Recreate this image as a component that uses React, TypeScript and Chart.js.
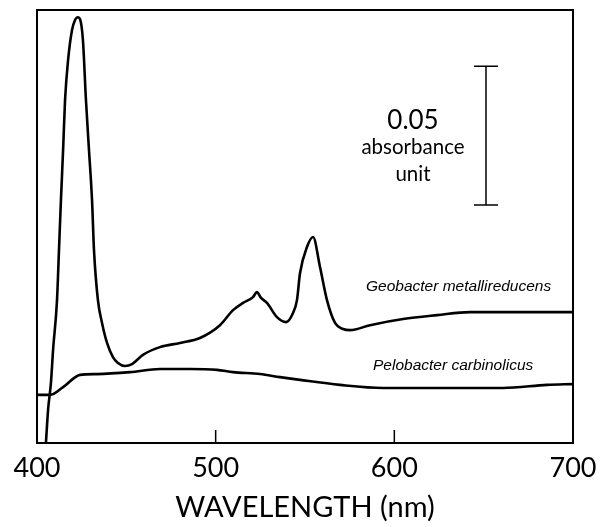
import React, { useEffect, useRef } from "react";
import { Chart, registerables } from "chart.js";

Chart.register(...registerables);

// Wavelength (nm) and absorbance values
const geoWavelength = [405.0, 406.2, 407.8, 409.0, 411.2, 412.3, 413.4, 414.6, 415.7, 417.4, 419.6, 421.3, 422.9, 424.1, 425.7, 427.4, 429.1, 430.8, 431.9, 434.1, 436.4, 439.2, 442.5, 445.3, 449.3, 453.2, 459.3, 468.8, 480.0, 491.2, 502.4, 509.7, 515.3, 520.9, 523.1, 525.4, 528.7, 534.3, 539.4, 543.3, 545.5, 547.2, 551.1, 554.5, 558.4, 562.3, 566.8, 571.3, 575.2, 586.4, 604.9, 623.9, 642.4, 660.8, 679.9, 700.0];
const geoAbsorbance = [0.0, 0.0119, 0.0216, 0.0335, 0.0514, 0.0694, 0.0874, 0.1054, 0.1234, 0.1378, 0.1486, 0.1522, 0.1532, 0.1525, 0.145, 0.1234, 0.1054, 0.0874, 0.0694, 0.0514, 0.0432, 0.036, 0.0309, 0.0288, 0.0277, 0.0284, 0.0317, 0.0345, 0.036, 0.0378, 0.0424, 0.0478, 0.0504, 0.0525, 0.0543, 0.0522, 0.0504, 0.0453, 0.0435, 0.0468, 0.0514, 0.0611, 0.0705, 0.0741, 0.0633, 0.0514, 0.0432, 0.041, 0.0406, 0.0424, 0.0446, 0.046, 0.0471, 0.0471, 0.0471, 0.0471];

const peloWavelength = [400.0, 407.3, 414.6, 424.1, 433.6, 452.1, 468.8, 485.6, 500.7, 509.7, 524.8, 536.0, 547.2, 569.6, 593.7, 623.9, 640.7, 660.8, 685.4, 700.0];
const peloAbsorbance = [0.0173, 0.0173, 0.0201, 0.0245, 0.0248, 0.0255, 0.0266, 0.0266, 0.0263, 0.0255, 0.0248, 0.0237, 0.0227, 0.0209, 0.0198, 0.0198, 0.0198, 0.0198, 0.0209, 0.0212];

const xTicks = [400, 500, 600, 700];
const innerTicks = [500, 600];
const seriesLabels = ["Geobacter metallireducens", "Pelobacter carbinolicus"];
const scaleBarValue = 0.05;
const scaleBarBottom = 0.0856;
const scaleBarWavelength = 651.3;

const FONT = "Lato, 'Open Sans', sans-serif";

const overlayPlugin = {
  id: "overlay",
  afterDraw(chart: any) {
    const ctx = chart.ctx;
    const { left, right, top, bottom } = chart.chartArea;
    const xs = chart.scales.x;
    const ys = chart.scales.y;
    ctx.save();
    ctx.strokeStyle = "#000";
    ctx.lineWidth = 2;
    // top and right borders
    ctx.beginPath();
    ctx.moveTo(left - 1, top);
    ctx.lineTo(right, top);
    ctx.lineTo(right, bottom + 1);
    ctx.stroke();
    // inner tick marks
    ctx.lineWidth = 1.5;
    innerTicks.forEach((v) => {
      const px = xs.getPixelForValue(v);
      ctx.beginPath();
      ctx.moveTo(px, bottom);
      ctx.lineTo(px, bottom - 13);
      ctx.stroke();
    });
    // scale bar
    const bx = xs.getPixelForValue(scaleBarWavelength);
    const by0 = ys.getPixelForValue(scaleBarBottom);
    const by1 = ys.getPixelForValue(scaleBarBottom + scaleBarValue);
    ctx.lineWidth = 1.5;
    ctx.beginPath();
    ctx.moveTo(bx, by0);
    ctx.lineTo(bx, by1);
    ctx.moveTo(bx - 12, by0);
    ctx.lineTo(bx + 12, by0);
    ctx.moveTo(bx - 12, by1);
    ctx.lineTo(bx + 12, by1);
    ctx.stroke();
    // scale bar text
    ctx.fillStyle = "#000";
    ctx.textAlign = "center";
    ctx.textBaseline = "middle";
    ctx.font = `26px ${FONT}`;
    ctx.fillText("0.05", 413, 121);
    ctx.font = `20.5px ${FONT}`;
    ctx.fillText("absorbance", 413, 147);
    ctx.fillText("unit", 413, 174);
    // series labels
    ctx.textAlign = "left";
    ctx.font = `italic 15.5px 'Liberation Sans', Arial, sans-serif`;
    ctx.fillText(seriesLabels[0], 366, 287);
    ctx.fillText(seriesLabels[1], 373, 366);
    ctx.restore();
  },
};

export default function App() {
  const ref = useRef<HTMLCanvasElement | null>(null);
  useEffect(() => {
    if (!ref.current) return;
    const chart = new Chart(ref.current, {
      type: "line",
      data: {
        datasets: [
          {
            label: seriesLabels[0],
            data: geoWavelength.map((x, i) => ({ x, y: geoAbsorbance[i] })),
            borderColor: "#000",
            borderWidth: 2.6,
            pointRadius: 0,
            cubicInterpolationMode: "monotone",
          },
          {
            label: seriesLabels[1],
            data: peloWavelength.map((x, i) => ({ x, y: peloAbsorbance[i] })),
            borderColor: "#000",
            borderWidth: 2.6,
            pointRadius: 0,
            cubicInterpolationMode: "monotone",
          },
        ],
      },
      options: {
        responsive: false,
        animation: false,
        devicePixelRatio: 1,
        layout: { padding: { left: 37, right: 27, top: 10, bottom: 0 } },
        plugins: { legend: { display: false }, tooltip: { enabled: false } },
        scales: {
          x: {
            type: "linear",
            min: 400,
            max: 700,
            afterBuildTicks: (s: any) => {
              s.ticks = xTicks.map((v) => ({ value: v }));
            },
            ticks: {
              color: "#000",
              font: { family: FONT, size: 27 },
              padding: 9,
              maxRotation: 0,
            },
            grid: { display: false, drawTicks: false },
            border: { display: true, color: "#000", width: 2 },
            title: {
              display: true,
              text: "WAVELENGTH (nm)",
              color: "#000",
              font: { family: FONT, size: 29 },
              padding: { top: 0, bottom: 2 },
            },
            afterFit: (s: any) => {
              s.height = 84;
              s.paddingLeft = 0;
              s.paddingRight = 0;
            },
          },
          y: {
            min: 0,
            max: 0.1558,
            ticks: { display: false },
            grid: { display: false, drawTicks: false },
            border: { display: true, color: "#000", width: 2 },
            afterFit: (s: any) => {
              s.width = 0;
              s.paddingTop = 0;
              s.paddingBottom = 0;
            },
          },
        },
      },
      plugins: [overlayPlugin],
    } as any);
    return () => chart.destroy();
  }, []);
  return (
    <canvas
      ref={ref}
      width={600}
      height={527}
      style={{ position: "absolute", left: 0, top: 0, display: "block" }}
    />
  );
}
